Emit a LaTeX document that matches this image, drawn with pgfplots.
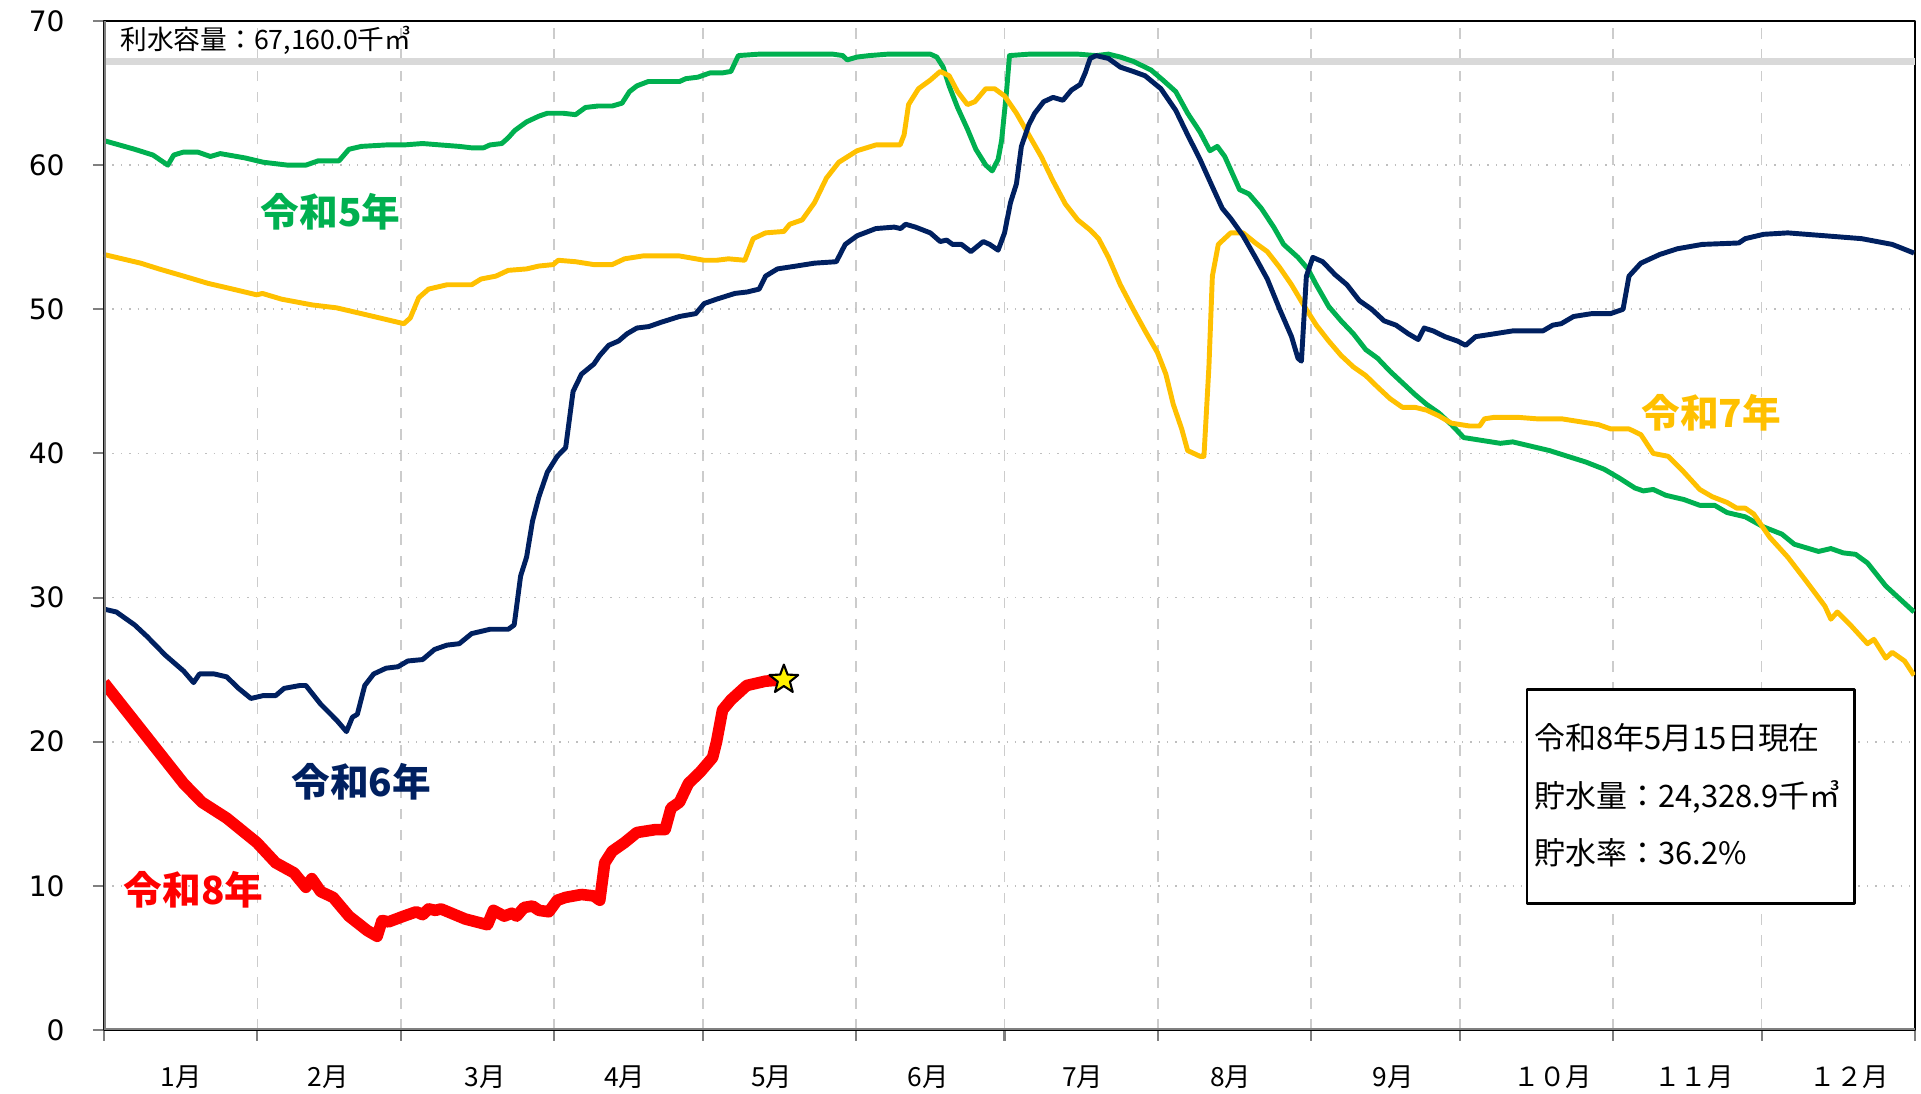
\documentclass[border=0pt]{standalone}
\usepackage{fontspec}
\setmainfont{DejaVu Sans}
\newfontfamily\jp{Noto Sans CJK JP}
\usepackage{pgfplots}
\pgfplotsset{compat=1.18}
\definecolor{g5}{HTML}{00B050}
\definecolor{n6}{HTML}{002060}
\definecolor{y7}{HTML}{FFC000}
\definecolor{r8}{HTML}{FF0000}
\pgfdeclareplotmark{fivestar}{%
  \pgfpathmoveto{\pgfpointpolar{90}{\pgfplotmarksize}}%
  \pgfpathlineto{\pgfpointpolar{126}{0.42\pgfplotmarksize}}%
  \pgfpathlineto{\pgfpointpolar{162}{\pgfplotmarksize}}%
  \pgfpathlineto{\pgfpointpolar{198}{0.42\pgfplotmarksize}}%
  \pgfpathlineto{\pgfpointpolar{234}{\pgfplotmarksize}}%
  \pgfpathlineto{\pgfpointpolar{270}{0.42\pgfplotmarksize}}%
  \pgfpathlineto{\pgfpointpolar{306}{\pgfplotmarksize}}%
  \pgfpathlineto{\pgfpointpolar{342}{0.42\pgfplotmarksize}}%
  \pgfpathlineto{\pgfpointpolar{18}{\pgfplotmarksize}}%
  \pgfpathlineto{\pgfpointpolar{54}{0.42\pgfplotmarksize}}%
  \pgfpathclose
  \pgfusepathqfillstroke}
\begin{document}
\begin{tikzpicture}
\path[use as bounding box] (-10.4mm,-6.4mm) rectangle (181.7mm,103.0mm);
\begin{axis}[
  at={(0,0)}, anchor=south west,
  scale only axis, width=181.1mm, height=100.9mm,
  xmin=0, xmax=366, ymin=0, ymax=70,
  xtick={0,31,60,91,121,152,182,213,244,274,305,335,366},
  xticklabels={},
  ytick={0,10,...,70},
  xtick pos=lower, ytick pos=left,
  tick align=outside,
  major tick length=1.1mm,
  xmajorgrids, ymajorgrids,
  x grid style={dashed, color=gray!40, line width=0.5pt},
  y grid style={dotted, color=gray!50, line width=0.5pt},
  extra x ticks={15.6,45.3,77,105.2,134.9,166.6,197.8,227.7,260.6,292.8,321.3,352.7},
  extra x tick labels={1月,2月,3月,4月,5月,6月,7月,8月,9月,１０月,１１月,１２月},
  extra x tick style={grid=none, major tick length=0pt,
    tick label style={font=\jp\fontsize{7.5}{8}\selectfont, yshift=-2.3mm}},
  yticklabel style={font=\fontsize{8}{9}\selectfont, xshift=-1.6mm},
  /pgf/number format/assume math mode=true,
  axis line style={black, line width=0.8pt},
  tick style={gray, line width=0.6pt},
  line join=round,
]
\addplot[gray!30, line width=2pt, forget plot] coordinates {(0,67.16) (366,67.16)};
\addplot[g5, line width=1.4pt] coordinates {
(0,61.7) (6.2,61.1) (9.9,60.7) (12.9,60.0) (14.1,60.7) (16,60.9) (19,60.9) (21.5,60.6) (23.5,60.8) (28.5,60.5) (32.2,60.2) (37.1,60.0) (40.8,60.0) (43.3,60.3) (47.5,60.3) (49.5,61.1) (52,61.3) (57,61.4) (60.6,61.4) (64.4,61.5) (68,61.4) (71.8,61.3) (74.3,61.2) (76.7,61.2) (78,61.4) (80.4,61.5) (81.7,61.9) (83,62.4) (85.4,63.0) (87.9,63.4) (89.6,63.6) (92.8,63.6) (95.3,63.5) (97.3,64.0) (99.8,64.1) (102.7,64.1) (104.7,64.3) (106.2,65.1) (107.7,65.5) (110,65.8) (113.9,65.8) (116.3,65.8) (117.6,66.0) (120,66.1) (122.5,66.4) (125,66.4) (126.7,66.5) (128.2,67.6) (132.4,67.7) (139.9,67.7) (147.3,67.7) (149.3,67.6) (150.2,67.3) (152.2,67.5) (154.7,67.6) (158.4,67.7) (167,67.7) (168.3,67.5) (169.6,66.8) (170.8,65.5) (172.5,64.0) (174.5,62.5) (176.2,61.1) (178.2,60.0) (179.5,59.6) (180.7,60.4) (181.4,61.7) (182.4,65.1) (183,67.6) (187,67.7) (196.8,67.7) (200.5,67.6) (203,67.7) (205.4,67.5) (208,67.2) (211.6,66.6) (214,65.9) (216.6,65.1) (219,63.6) (221.5,62.3) (223.5,61.0) (225,61.3) (226.5,60.6) (229.5,58.3) (231.4,58.0) (233.9,57.0) (236.4,55.7) (238.4,54.5) (241.3,53.6) (243.3,52.8) (245,51.7) (247.5,50.2) (250,49.2) (252.5,48.3) (255,47.2) (257.4,46.6) (259.9,45.7) (262.4,44.9) (264.9,44.1) (267.3,43.4) (269.8,42.8) (272.3,42.0) (274.8,41.1) (278.5,40.9) (282.2,40.7) (284.7,40.8) (288.4,40.5) (292.1,40.2) (295.8,39.8) (299.5,39.4) (303.2,38.9) (306.2,38.3) (309.4,37.6) (311.1,37.4) (313.1,37.5) (315.6,37.1) (319.3,36.8) (322.5,36.4) (325.5,36.4) (328,35.9) (331.7,35.6) (335.4,34.9) (339.1,34.4) (341.6,33.7) (346.5,33.2) (349,33.4) (351.5,33.1) (354,33.0) (356.4,32.4) (360.1,30.8) (365.8,29.0)};
\addplot[y7, line width=1.4pt] coordinates {
(0,53.8) (3.7,53.5) (7.4,53.2) (11.1,52.8) (16.1,52.3) (21,51.8) (26,51.4) (30.9,51.0) (32,51.1) (35.9,50.7) (42.1,50.3) (47,50.1) (52,49.7) (55.7,49.4) (60.6,49.0) (61.9,49.4) (63.6,50.8) (65.6,51.4) (69.3,51.7) (74.3,51.7) (76.2,52.1) (79.2,52.3) (81.7,52.7) (85.4,52.8) (87.9,53.0) (90.8,53.1) (91.8,53.4) (95.3,53.3) (99,53.1) (102.7,53.1) (105.2,53.5) (108.9,53.7) (116.3,53.7) (121.3,53.4) (123.8,53.4) (126.2,53.5) (129.5,53.4) (131.2,54.9) (133.7,55.3) (137.4,55.4) (138.6,55.9) (141.1,56.2) (143.6,57.4) (146,59.1) (148.5,60.2) (152.2,61.0) (156,61.4) (160.9,61.4) (161.7,62.1) (162.6,64.2) (164.6,65.3) (167,65.9) (169,66.5) (170.8,66.2) (172.5,65.1) (174.5,64.2) (176,64.4) (178.2,65.3) (180,65.3) (182,64.8) (184.4,63.6) (186.9,62.1) (189.4,60.6) (191.8,58.9) (194.3,57.3) (196.8,56.2) (199.3,55.5) (201,54.9) (203,53.6) (205.4,51.7) (208,50.0) (210.4,48.5) (212.9,47.0) (214.6,45.5) (216.1,43.4) (217.8,41.7) (219,40.2) (221.5,39.8) (222.3,39.8) (223.3,46.0) (224,52.3) (225.2,54.5) (227.7,55.3) (230.2,55.3) (232.7,54.6) (235.1,54.0) (237.6,52.9) (240,51.7) (242.6,50.2) (245,48.9) (247.5,47.8) (250,46.8) (252.5,46.0) (255,45.4) (257.4,44.6) (259.9,43.8) (262.4,43.2) (264.9,43.2) (267.3,43.0) (269.8,42.6) (272.3,42.1) (276,41.9) (278,41.9) (279,42.4) (280.9,42.5) (285.9,42.5) (289.6,42.4) (294.6,42.4) (298.3,42.2) (302,42.0) (304.5,41.7) (308.2,41.7) (310.6,41.3) (313.1,40.0) (316.1,39.8) (319.3,38.7) (322.5,37.5) (325,37.0) (328,36.6) (330,36.2) (331.7,36.2) (333.4,35.8) (336.6,34.2) (340.3,32.8) (344.1,31.1) (347.8,29.4) (349,28.5) (350.3,29.0) (353.2,28.0) (356.4,26.8) (357.7,27.1) (360.1,25.8) (361.4,26.2) (363.9,25.6) (365.8,24.6)};
\addplot[n6, line width=1.4pt] coordinates {
(0,29.2) (2.5,29.0) (6.2,28.1) (8.7,27.3) (12.4,26.0) (16.1,24.9) (18.1,24.1) (19.3,24.7) (22.3,24.7) (24.8,24.5) (27.2,23.7) (29.7,23.0) (32.2,23.2) (34.7,23.2) (36.4,23.7) (39.6,23.9) (40.8,23.9) (43.8,22.6) (47,21.5) (49,20.7) (50.2,21.7) (51.2,21.9) (52.7,23.9) (54.5,24.7) (57,25.1) (59.4,25.2) (61.4,25.6) (64.4,25.7) (66.8,26.4) (69.3,26.7) (71.8,26.8) (74.3,27.5) (78,27.8) (81.7,27.8) (82.9,28.1) (84.2,31.5) (85.4,32.8) (86.6,35.3) (87.9,37.0) (89.6,38.7) (91.6,39.8) (93.3,40.4) (94.8,44.3) (96.5,45.5) (99,46.2) (100.2,46.8) (102,47.5) (104,47.8) (105.7,48.3) (107.7,48.7) (110.1,48.8) (112.6,49.1) (116.3,49.5) (119.6,49.7) (121.3,50.4) (123.8,50.7) (127.5,51.1) (130,51.2) (132.4,51.4) (133.7,52.3) (136.1,52.8) (139.9,53.0) (143.6,53.2) (148,53.3) (149.8,54.5) (152.2,55.1) (156,55.6) (159.7,55.7) (161,55.6) (162,55.9) (164,55.7) (167,55.3) (169,54.7) (170.3,54.8) (171.5,54.5) (173.3,54.5) (175.2,54.0) (177.7,54.7) (179,54.5) (180.7,54.1) (182,55.3) (183.2,57.4) (184.4,58.7) (185.4,61.3) (186.9,62.8) (188.1,63.6) (189.9,64.4) (191.8,64.7) (193.8,64.5) (195.5,65.2) (197.3,65.6) (198.3,66.4) (199.3,67.4) (200.5,67.6) (203,67.4) (205.4,66.8) (208,66.5) (210.4,66.2) (213.6,65.3) (216.6,63.8) (219,62.1) (221.5,60.4) (224,58.5) (226,57.0) (227.7,56.3) (230.2,55.1) (232.7,53.6) (235.1,52.1) (237.6,50.0) (240,48.1) (241.3,46.6) (242,46.4) (243,52.3) (244.3,53.6) (246.3,53.3) (248.8,52.4) (251.2,51.7) (253.7,50.6) (256.2,50.0) (258.7,49.2) (261.1,48.9) (263.6,48.3) (265.6,47.9) (266.8,48.7) (268.6,48.5) (271,48.1) (273.5,47.8) (275.2,47.5) (277.2,48.1) (281,48.3) (284.7,48.5) (290.8,48.5) (292.8,48.9) (294.5,49.0) (297,49.5) (300.7,49.7) (304.5,49.7) (307,50.0) (308.2,52.3) (310.6,53.2) (314.4,53.8) (318,54.2) (323,54.5) (330.4,54.6) (331.7,54.9) (335.4,55.2) (340.3,55.3) (347.8,55.1) (355.2,54.9) (361.4,54.5) (365.8,53.9)};
\addplot[r8, line width=3.3pt] coordinates {
(0,24.1) (16.1,17.1) (19.8,15.8) (24.8,14.7) (30.9,13.0) (34.7,11.6) (38.4,10.9) (40.8,9.9) (42,10.5) (43.8,9.6) (46.3,9.2) (49.5,7.9) (53.2,6.9) (55.2,6.5) (56.2,7.6) (57.5,7.5) (60.6,7.9) (63.1,8.2) (64.4,8.0) (65.6,8.4) (67,8.3) (68.1,8.4) (73,7.7) (77.5,7.3) (78.7,8.3) (80.9,7.9) (82.4,8.1) (83.4,7.9) (84.9,8.5) (86.6,8.6) (87.9,8.3) (89.9,8.2) (91.6,9.0) (93.3,9.2) (96.5,9.4) (99,9.3) (100.2,9.0) (101.2,11.6) (102.7,12.4) (105.2,13.0) (107.7,13.7) (111.4,13.9) (113.4,13.9) (114.6,15.4) (116.3,15.8) (118.1,17.1) (120.5,17.9) (123,18.9) (123.8,20.0) (125,22.2) (126.7,22.9) (129.9,23.9) (133.7,24.2) (137.4,24.3)};
\addplot[only marks, mark=fivestar, mark size=4.3pt, mark options={fill=yellow, draw=black, line width=0.6pt}] coordinates {(137.4,24.3)};
\draw[gray, line width=0.9pt] (rel axis cs:0,0) -- (rel axis cs:0,1);
\draw[gray, line width=1.3pt] (rel axis cs:0,0) -- (rel axis cs:1,0);
\node[anchor=west, inner sep=0pt, font=\jp\fontsize{7.6}{9}\selectfont] at (axis cs:3.2,68.65) {利水容量：67,160.0千㎥};
\node[font=\jp\bfseries\fontsize{11}{13}\selectfont, text=g5] at (axis cs:45.8,56.8) {令和5年};
\node[font=\jp\bfseries\fontsize{11}{13}\selectfont, text=n6] at (axis cs:52,17.25) {令和6年};
\node[font=\jp\bfseries\fontsize{11}{13}\selectfont, text=y7] at (axis cs:324.8,42.8) {令和7年};
\node[font=\jp\bfseries\fontsize{11}{13}\selectfont, text=r8] at (axis cs:18.1,9.7) {令和8年};
\draw[black, line width=0.8pt, fill=white] (axis cs:287.6,8.75) rectangle (axis cs:353.8,23.6);
\node[anchor=west, inner sep=0pt, font=\jp\fontsize{8.8}{10}\selectfont] at (axis cs:289.0,20.3) {令和8年5月15日現在};
\node[anchor=west, inner sep=0pt, font=\jp\fontsize{8.8}{10}\selectfont] at (axis cs:289.0,16.2) {貯水量：24,328.9千㎥};
\node[anchor=west, inner sep=0pt, font=\jp\fontsize{8.8}{10}\selectfont] at (axis cs:289.0,12.3) {貯水率：36.2\%};
\end{axis}
\end{tikzpicture}
\end{document}
